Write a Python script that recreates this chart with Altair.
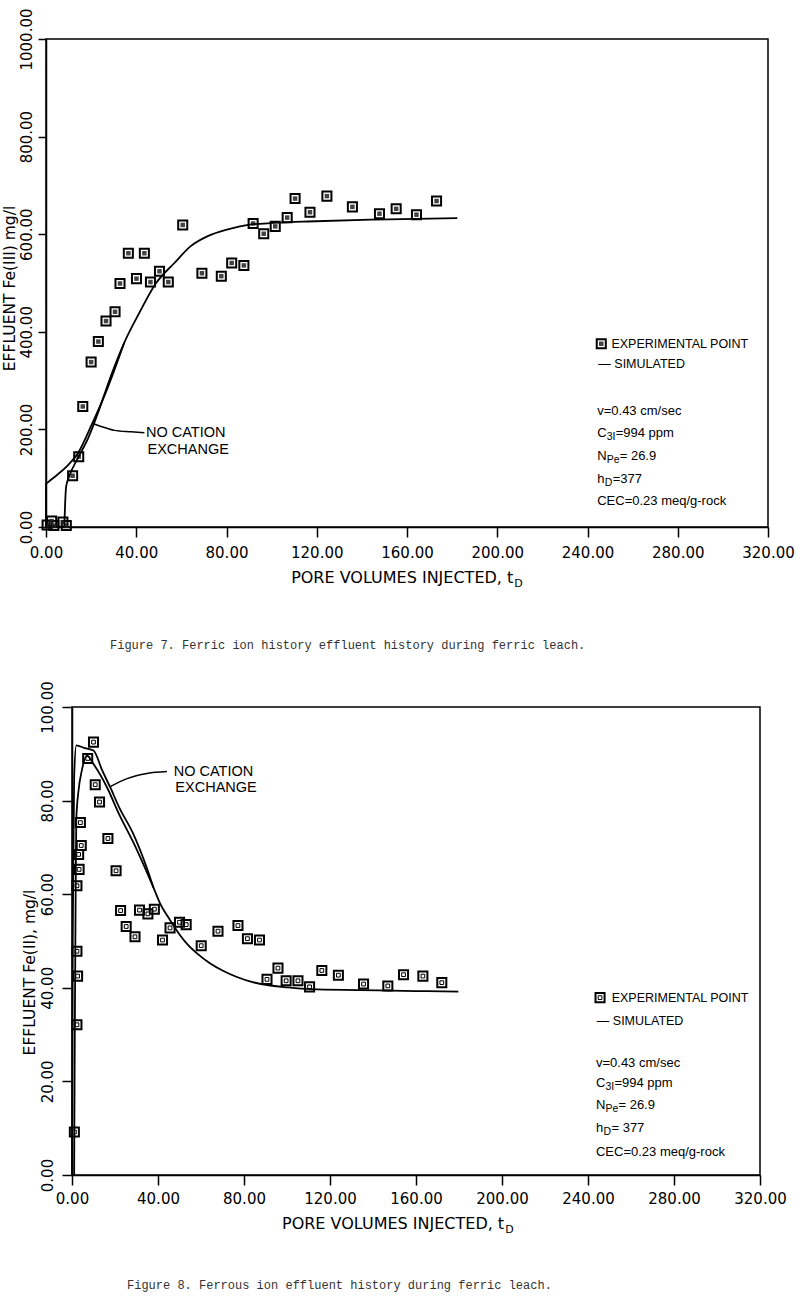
import altair as alt
import pandas as pd

# ---------------- Figure 7 : effluent Fe(III) ----------------
f7_exp_x = [0.5, 2.5, 3.5, 7.5, 9.0, 11.8, 14.5, 16.3, 20.0, 23.2, 26.6, 30.6, 32.8, 36.5,
            40.1, 43.6, 46.3, 50.3, 54.2, 60.6, 69.1, 77.7, 82.3, 87.7, 91.8, 96.5, 101.6,
            106.9, 110.4, 117.0, 124.5, 135.8, 147.8, 155.2, 164.2, 173.1]
f7_exp_y = [4, 12, 3, 10, 3, 105, 144, 247, 338, 380, 422, 441, 499, 561,
            509, 561, 502, 524, 502, 619, 520, 514, 541, 536, 622, 601, 616,
            634, 673, 645, 678, 656, 642, 652, 640, 668]
f7_sim_x = [8.1, 8.5, 8.9, 10.3, 14.0, 18.5, 22.9, 28.8, 34.7, 41.5, 48.5, 56.9, 64.3,
            71.7, 80.6, 90.9, 101.0, 116.0, 145.6, 182.3]
f7_sim_y = [0, 50, 82, 104, 140, 180, 232, 310, 378, 440, 498, 541, 576,
            596, 610, 620, 623, 626, 630, 633]
f7_nce_x = [0.0, 0.05, 1.0, 5.0, 10.0, 14.0, 20.0, 27.4, 34.7]
f7_nce_y = [0, 88, 92, 107, 128, 150, 207, 286, 378]
f7_lead_x = [20.7, 24.4, 30.3, 37.7, 43.6]
f7_lead_y = [212, 206, 198, 195, 193]
f7_xticks = [0, 40, 80, 120, 160, 200, 240, 280, 320]
f7_yticks = [0, 200, 400, 600, 800, 1000]

# ---------------- Figure 8 : effluent Fe(II) ----------------
f8_exp_x = [1.1, 2.3, 2.6, 2.3, 2.3, 3.3, 3.1, 4.3, 3.9, 7.3, 10.0, 10.8, 12.8, 16.7,
            20.5, 22.6, 25.2, 29.3, 31.4, 35.3, 38.3, 42.1, 45.6, 50.0, 53.1, 60.1,
            67.9, 77.2, 81.6, 87.2, 90.7, 95.8, 99.6, 105.1, 110.5, 116.2, 123.9,
            135.6, 146.9, 154.2, 163.2, 172.0]
f8_exp_y = [9.2, 32.1, 42.5, 47.8, 61.8, 65.3, 68.5, 70.4, 75.3, 89.0, 92.5, 83.4, 79.7, 71.9,
            65.0, 56.5, 53.1, 50.9, 56.6, 55.8, 56.8, 50.2, 52.8, 54.0, 53.5, 49.0,
            52.1, 53.3, 50.5, 50.2, 41.8, 44.2, 41.5, 41.5, 40.2, 43.7, 42.7,
            40.8, 40.4, 42.8, 42.5, 41.1]
f8_sim_x = [1.0, 1.3, 1.7, 2.0, 3.0, 4.6, 7.0, 10.0, 16.3, 22.0, 28.6, 34.9, 37.9, 41.0,
            45.7, 50.0, 53.5, 58.0, 64.3, 70.0, 76.7, 84.0, 90.7, 100.0, 110.8, 134.0,
            160.0, 179.7]
f8_sim_y = [0.0, 30.0, 60.0, 76.0, 82.0, 86.5, 89.6, 87.8, 82.8, 77.0, 71.0, 64.6, 61.4, 58.0,
            54.4, 51.4, 49.4, 47.4, 45.2, 43.7, 42.3, 41.2, 40.6, 40.1, 39.7, 39.5,
            39.3, 39.2]
f8_nce_x = [0.0, 0.3, 1.0, 2.0, 6.0, 10.0, 14.0, 17.8, 22.0, 28.6, 34.9, 37.9]
f8_nce_y = [0.0, 50.0, 85.0, 91.8, 91.2, 90.7, 86.5, 82.8, 78.5, 72.8, 65.5, 61.4]
f8_lead_x = [17.8, 25.6, 34.9, 44.2]
f8_lead_y = [83.0, 84.7, 85.8, 86.2]
f8_xticks = [0, 40, 80, 120, 160, 200, 240, 280, 320]
f8_yticks = [0, 20, 40, 60, 80, 100]

AXFONT = "DejaVu Sans"
TXFONT = "Liberation Sans"


def xy(xs, ys, ax=None, ay=None):
    kx = dict(scale=xs)
    ky = dict(scale=ys)
    if ax is not None:
        kx["axis"] = ax
    if ay is not None:
        ky["axis"] = ay
    return dict(x=alt.X("x:Q", **kx), y=alt.Y("y:Q", **ky))


def label(x, y, text, xs, ys, size, font=TXFONT, align="left", dx=0, dy=0):
    df = pd.DataFrame({"x": [x], "y": [y], "t": [text]})
    return alt.Chart(df).mark_text(
        align=align, baseline="middle", dx=dx, dy=dy, font=font, fontSize=size, color="black"
    ).encode(text="t:N", **xy(xs, ys))


def markers(df, xs, ys, dark, ax=None, ay=None):
    base = alt.Chart(df)
    outer = base.mark_point(shape="square", filled=False, size=82, strokeWidth=2.0,
                            color="black", opacity=1).encode(**xy(xs, ys, ax, ay))
    if dark:
        inner = base.mark_point(shape="square", filled=True, size=20, color="#222222",
                                opacity=0.85).encode(**xy(xs, ys))
    else:
        inner = base.mark_point(shape="square", filled=False, size=14, strokeWidth=1.0,
                                color="black", opacity=1).encode(**xy(xs, ys))
    return [outer, inner]


def panel(exp_x, exp_y, sim_x, sim_y, nce_x, nce_y, lead_x, lead_y, xticks, yticks,
          ymax, w, h, ytitle, dark, tick_x, tick_y, lpad_x, lpad_y, tpad_y, title_y,
          xt_x, xt_y, nce_labels, legend, params, param_x, caption, cap_dx, cap_off):
    xs = alt.Scale(domain=[0, 320], nice=False, zero=False)
    ys = alt.Scale(domain=[0, ymax], nice=False, zero=False)
    ax = alt.Axis(values=xticks, format=".2f", title="", grid=False, tickSize=tick_x,
                  tickWidth=1.5, tickColor="black", domainColor="black", domainWidth=1.5,
                  labelFont=AXFONT, labelFontSize=15, labelColor="black", labelPadding=lpad_x,
                  labelFlush=False, labelOverlap=False)
    ay = alt.Axis(values=yticks, format=".2f", title=ytitle, grid=False, tickSize=tick_y,
                  tickWidth=1.5, tickColor="black", domainColor="black", domainWidth=1.5,
                  labelFont=AXFONT, labelFontSize=15, labelColor="black", labelPadding=lpad_y,
                  labelAngle=270, labelAlign="center", labelBaseline="bottom",
                  labelOverlap=False, titleFont=AXFONT, titleFontSize=15.5,
                  titleFontWeight="normal", titleColor="black", titlePadding=tpad_y,
                  titleY=title_y)
    layers = []
    layers += markers(pd.DataFrame({"x": exp_x, "y": exp_y}), xs, ys, dark, ax, ay)
    layers.append(alt.Chart(pd.DataFrame({"x": sim_x, "y": sim_y})).mark_line(
        color="black", strokeWidth=1.8, interpolate="monotone").encode(**xy(xs, ys)))
    layers.append(alt.Chart(pd.DataFrame({"x": nce_x, "y": nce_y})).mark_line(
        color="black", strokeWidth=1.8, interpolate="monotone").encode(**xy(xs, ys)))
    layers.append(alt.Chart(pd.DataFrame({"x": lead_x, "y": lead_y})).mark_line(
        color="black", strokeWidth=1.5, interpolate="monotone").encode(**xy(xs, ys)))
    # NO CATION EXCHANGE label
    for (tx, ty, tt, al) in nce_labels:
        layers.append(label(tx, ty, tt, xs, ys, 14.5, align=al))
    # x axis title (with subscript D)
    layers.append(label(xt_x, xt_y, "PORE VOLUMES INJECTED, t", xs, ys, 16, font=AXFONT,
                        align="right"))
    layers.append(label(xt_x, xt_y, "D", xs, ys, 11, font=AXFONT, align="left", dx=1, dy=6))
    # legend
    mk_x, mk_y, lt_x, sim_lx, sim_ly = legend
    layers += markers(pd.DataFrame({"x": [mk_x], "y": [mk_y]}), xs, ys, dark)
    layers.append(label(lt_x, mk_y, "EXPERIMENTAL  POINT", xs, ys, 12.5))
    layers.append(label(sim_lx, sim_ly, "— SIMULATED", xs, ys, 12.5))
    # parameter block (with subscripts)
    for (py, frags) in params:
        for (ft, fdx, fdy, fs) in frags:
            layers.append(label(param_x, py, ft, xs, ys, fs, dx=fdx, dy=fdy))
    return alt.layer(*layers).properties(
        width=w, height=h,
        title=alt.TitleParams(text=caption, orient="bottom", anchor="start", frame="group",
                              dx=cap_dx, offset=cap_off, font="Liberation Mono", fontSize=12,
                              fontWeight="normal", color="#333333"))


def param_rows(ys_list, v_txt, n_txt, h_txt, cec_txt):
    return [
        (ys_list[0], [(v_txt, 0, 0, 13)]),
        (ys_list[1], [("C", 0, 0, 13), ("3I", 9.5, 4, 10.5), ("=994  ppm", 18.5, 0, 13)]),
        (ys_list[2], [("N", 0, 0, 13), ("Pe", 9.5, 4, 10.5), (n_txt, 22.5, 0, 13)]),
        (ys_list[3], [("h", 0, 0, 13), ("D", 7.5, 4, 10.5), (h_txt, 15.5, 0, 13)]),
        (ys_list[4], [(cec_txt, 0, 0, 13)]),
    ]


c1 = panel(f7_exp_x, f7_exp_y, f7_sim_x, f7_sim_y, f7_nce_x, f7_nce_y, f7_lead_x, f7_lead_y,
           f7_xticks, f7_yticks, 1000, 722, 488, "EFFLUENT  Fe(III)  mg/l", True,
           10, 8, 8, 4, 2, 249, 207.1, -104,
           [(44.3, 193, "NO CATION", "left"), (45.0, 157, "EXCHANGE", "left")],
           (246.1, 375.6, 250.6, 244.8, 334),
           param_rows([237.7, 193.2, 145.5, 97.7, 53.3], "v=0.43 cm/sec", "= 26.9", "=377",
                      "CEC=0.23  meq/g-rock"), 244.3,
           "Figure 7. Ferric ion history effluent history during ferric leach.", 64, 51)

c2 = panel(f8_exp_x, f8_exp_y, f8_sim_x, f8_sim_y, f8_nce_x, f8_nce_y, f8_lead_x, f8_lead_y,
           f8_xticks, f8_yticks, 100, 688, 468, "EFFLUENT  Fe(II),  mg/l", False,
           10, 10, 6, 7, 3, 265, 201.0, -10.4,
           [(65.8, 86.2, "NO CATION", "center"), (67.0, 82.6, "EXCHANGE", "center")],
           (245.6, 37.9, 251.0, 244.1, 32.8),
           param_rows([23.9, 19.6, 15.0, 10.0, 5.0], "v=0.43 cm/sec", "= 26.9", "= 377",
                      "CEC=0.23 meq/g-rock"), 243.7,
           "Figure 8. Ferrous ion effluent history during ferric leach.", 55, 45)


def spacer(w):
    return alt.Chart(pd.DataFrame({"s": [0]})).mark_point(opacity=0).encode(
        x=alt.value(0), y=alt.value(0)
    ).properties(width=w, height=1, view=alt.ViewBackground(strokeOpacity=0))


row1 = alt.hconcat(spacer(45), c1, spacing=0, bounds="flush")
row2 = alt.hconcat(spacer(71), c2, spacing=0, bounds="flush")

chart = alt.vconcat(row1, row2, spacing=668, bounds="flush").properties(
    padding={"left": -2, "top": 7, "right": 0, "bottom": 0},
    background="white",
).configure_view(stroke="black", strokeWidth=1.5)

chart.save("out.html", embed_options={"renderer": "svg", "actions": False})
